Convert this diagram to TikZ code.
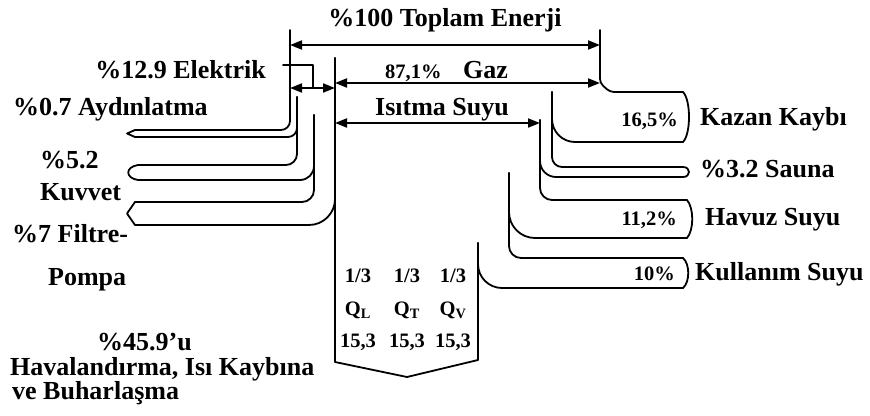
\documentclass[tikz,border=0pt]{standalone}
\usepackage{fontspec}
\setmainfont{Liberation Serif}
\usetikzlibrary{arrows.meta}
\tikzset{
    wall/.style={line width=1.8pt, line cap=round, line join=round},
    lbl/.style={font=\fontsize{26}{26}\selectfont\bfseries, inner sep=0pt},
    val/.style={font=\fontsize{20.5}{21}\selectfont\bfseries, inner sep=0pt},
}

\begin{document}
\begin{tikzpicture}[x=1pt, y=-1pt, >={Triangle[length=12pt,width=9pt]}]
    \useasboundingbox (0,0) rectangle (870,415);

    % Dimension end points
    \coordinate (topL) at (290,45);
    \coordinate (topR) at (600,45);
    \coordinate (elkL) at (290,88);
    \coordinate (elkR) at (335,88);
    \coordinate (gazL) at (335,83);
    \coordinate (gazR) at (600,83);
    \coordinate (isiL) at (335,123);
    \coordinate (isiR) at (540,123);
    \coordinate (elkA) at (283,65);
    \coordinate (elkB) at (313,88);

    % Dimension arrows
    \draw[wall, <->] (topL) -- (topR);
    \draw[wall, <->] (elkL) -- (elkR);
    \draw[wall, <->] (gazL) -- (gazR);
    \draw[wall, <->] (isiL) -- (isiR);
    \draw[wall] (elkA) -| (elkB);

    % Electric branches (left)
    \draw[wall, rounded corners=9pt] (290,30) |- (135,130);
    \draw[wall, rounded corners=9pt] (297,97) |- (135,137);
    \draw[wall] (135,130) -- (127,133.5) -- (135,137);
    \draw[wall, rounded corners=11pt] (297,97) |- (138,165);
    \draw[wall, rounded corners=14pt] (314,115) |- (138,180);
    \draw[wall] (138,165) .. controls (125,167) and (125,178) .. (138,180);
    \draw[wall, rounded corners=12pt] (314,115) |- (135,202);
    \draw[wall, rounded corners=26pt] (335,58) |- (135,225);
    \draw[wall] (135,202) -- (127,213.5) -- (135,225);

    % Gas branches (right)
    \draw[wall, rounded corners=4pt] (600,30) -- (600,83) -- (610,92) -- (683,92);
    \draw[wall, rounded corners=23pt] (552,92) |- (683,142);
    \draw[wall] (683,92) .. controls (691,100) and (691,134) .. (683,142);
    \draw[wall, rounded corners=10pt] (552,92) |- (683,167);
    \draw[wall, rounded corners=16pt] (540,120) |- (683,177);
    \draw[wall] (683,167) .. controls (691,167) and (691,177) .. (683,177);
    \draw[wall, rounded corners=12pt] (540,120) |- (687,200);
    \draw[wall, rounded corners=26pt] (509,173) |- (687,238);
    \draw[wall] (687,200) .. controls (694,208) and (694,230) .. (687,238);
    \draw[wall, rounded corners=12pt] (509,173) |- (683,258);
    \draw[wall, rounded corners=24pt] (478,243) |- (683,288);
    \draw[wall] (683,258) .. controls (690,264) and (690,282) .. (683,288);

    % Heating box
    \draw[wall] (478,243) -- (478,360) -- (407,377) -- (335,362) -- (335,58);

    % Labels
    \node[lbl, anchor=base] (ttl) at (445,27) {\%100 Toplam Enerji};
    \node[lbl, anchor=base east] (elk) at (266,78) {\%12.9 Elektrik};
    \node[lbl, anchor=base west] (ayd) at (13,115) {\%0.7 Aydınlatma};
    \node[lbl, anchor=base west] (kuvp) at (40,168) {\%5.2};
    \node[lbl, anchor=base west] (kuv) at (40,200) {Kuvvet};
    \node[lbl, anchor=base west] (flt) at (12,242) {\%7 Filtre-};
    \node[lbl, anchor=base west] (pmp) at (48,285) {Pompa};
    \node[lbl, anchor=base west] (hvp) at (97,350) {\%45.9'u};
    \node[lbl, anchor=base west] (hv1) at (10,375) {Havalandırma, Isı Kaybına};
    \node[lbl, anchor=base west] (hv2) at (12,399) {ve Buharlaşma};
    \node[val, anchor=base west] (gazp) at (385,78) {87,1\%};
    \node[lbl, anchor=base west] (gaz) at (463,78) {Gaz};
    \node[lbl, anchor=base west] (isi) at (375,115) {Isıtma Suyu};
    \node[val, anchor=base east] (kzp) at (678,126) {16,5\%};
    \node[lbl, anchor=base west] (kz) at (700,125) {Kazan Kaybı};
    \node[lbl, anchor=base west] (sna) at (700,177) {\%3.2 Sauna};
    \node[val, anchor=base east] (hvzp) at (677,225) {11,2\%};
    \node[lbl, anchor=base west] (hvz) at (705,225) {Havuz Suyu};
    \node[val, anchor=base east] (kulp) at (675,280) {10\%};
    \node[lbl, anchor=base west] (kul) at (695,280) {Kullanım Suyu};

    % Box contents
    \node[val, anchor=base] (pL) at (358,282) {1/3};
    \node[val, anchor=base] (pT) at (407,282) {1/3};
    \node[val, anchor=base] (pV) at (453,282) {1/3};
    \node[val, anchor=base] (qL) at (358,315) {Q\textsubscript{L}};
    \node[val, anchor=base] (qT) at (407,315) {Q\textsubscript{T}};
    \node[val, anchor=base] (qV) at (453,315) {Q\textsubscript{V}};
    \node[val, anchor=base] (vL) at (358,347) {15,3};
    \node[val, anchor=base] (vT) at (407,347) {15,3};
    \node[val, anchor=base] (vV) at (453,347) {15,3};
\end{tikzpicture}
\end{document}
